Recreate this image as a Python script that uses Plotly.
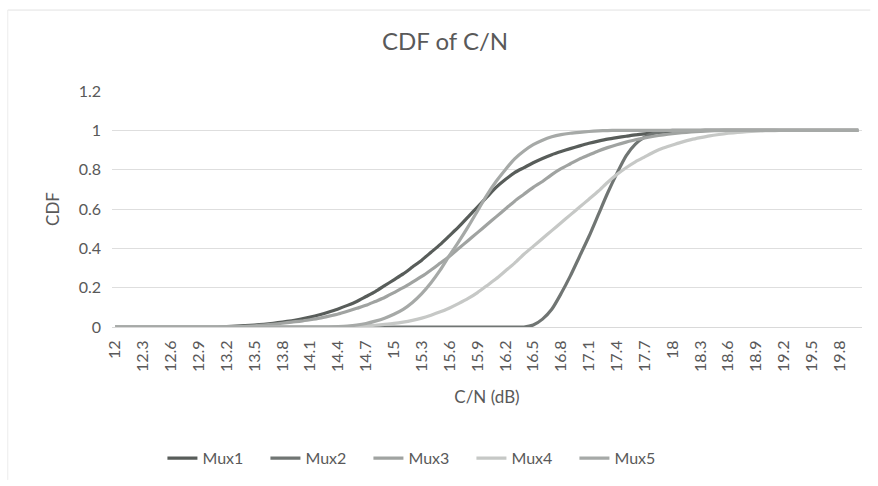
import plotly.graph_objects as go

# C/N categories in dB, 12.0 to 20.0 in 0.1 dB bins
cn_db = [round(12 + 0.1 * i, 1) for i in range(81)]

# CDF values per multiplex (index aligned with cn_db)
mux1 = ([0] * 12 +
        [0.002, 0.004, 0.007, 0.01, 0.014, 0.019, 0.025, 0.032, 0.04, 0.05,
         0.062, 0.076, 0.092, 0.11, 0.13, 0.155, 0.18, 0.21, 0.24, 0.27,
         0.305, 0.34, 0.38, 0.42, 0.465, 0.51, 0.56, 0.61, 0.66, 0.71,
         0.75, 0.785, 0.81, 0.835, 0.857, 0.876, 0.892, 0.907, 0.921, 0.934,
         0.945, 0.955, 0.963, 0.97, 0.977, 0.982, 0.987, 0.991, 0.994, 0.996,
         0.998, 0.999] +
        [1] * 17)

mux2 = ([0] * 45 +
        [0.01, 0.04, 0.09, 0.17, 0.26, 0.36, 0.46, 0.57, 0.68, 0.78,
         0.87, 0.93, 0.965, 0.985, 0.995] +
        [1] * 21)

mux3 = ([0] * 14 +
        [0.003, 0.006, 0.01, 0.014, 0.019, 0.025, 0.03, 0.037, 0.045, 0.055,
         0.066, 0.08, 0.095, 0.11, 0.13, 0.15, 0.175, 0.2, 0.228, 0.257,
         0.29, 0.325, 0.36, 0.4, 0.44, 0.48, 0.52, 0.56, 0.6, 0.64,
         0.675, 0.71, 0.74, 0.775, 0.805, 0.83, 0.855, 0.875, 0.895, 0.912,
         0.927, 0.94, 0.952, 0.962, 0.97, 0.977, 0.983, 0.988, 0.992, 0.995,
         0.997, 0.999] +
        [1] * 15)

mux4 = ([0] * 25 +
        [0.002, 0.004, 0.006, 0.009, 0.013, 0.018, 0.025, 0.034, 0.045, 0.06,
         0.077, 0.097, 0.12, 0.145, 0.175, 0.21, 0.245, 0.285, 0.325, 0.37,
         0.41, 0.45, 0.49, 0.53, 0.57, 0.61, 0.65, 0.69, 0.735, 0.775,
         0.81, 0.84, 0.865, 0.89, 0.91, 0.925, 0.94, 0.953, 0.963, 0.972,
         0.979, 0.985, 0.99, 0.993, 0.996, 0.998, 0.999] +
        [1] * 9)

mux5 = ([0] * 24 +
        [0.002, 0.005, 0.01, 0.018, 0.03, 0.045, 0.065, 0.09, 0.125, 0.17,
         0.225, 0.29, 0.365, 0.435, 0.51, 0.59, 0.67, 0.74, 0.80, 0.855,
         0.895, 0.927, 0.95, 0.967, 0.978, 0.985, 0.99, 0.994, 0.997, 0.999] +
        [1] * 27)

series_names = ["Mux1", "Mux2", "Mux3", "Mux4", "Mux5"]
series_values = [mux1, mux2, mux3, mux4, mux5]
series_colors = ["#585d5a", "#707573", "#a0a3a1", "#c6c8c6", "#a6a9a7"]

# Every third category gets a label
tick_vals = cn_db[::3]
tick_text = [f"{v:g}" for v in tick_vals]

text_color = "#595959"
font_family = "Lato, 'Open Sans', sans-serif"

fig = go.Figure()
for name, vals, color in zip(series_names, series_values, series_colors):
    fig.add_trace(go.Scatter(
        x=cn_db, y=vals, name=name, mode="lines",
        line=dict(color=color, width=3.2, shape="spline", smoothing=0.6),
    ))

fig.update_layout(
    width=878, height=486,
    margin=dict(l=112, r=16, t=91, b=159, autoexpand=False),
    paper_bgcolor="white", plot_bgcolor="white",
    font=dict(family=font_family, color=text_color, size=16),
    title=dict(text="CDF of C/N", x=0.507, xref="container", xanchor="center",
               y=0.915, yref="container", yanchor="middle",
               font=dict(size=24, color=text_color)),
    showlegend=True,
    legend=dict(orientation="h", x=0.185, xanchor="left", xref="container",
                y=0.057, yanchor="middle", yref="container",
                entrywidth=58, entrywidthmode="pixels",
                itemwidth=30, tracegroupgap=0,
                font=dict(size=16, color=text_color)),
    xaxis=dict(
        range=[11.965, 20.04], automargin=False,
        tickmode="array", tickvals=tick_vals, ticktext=tick_text,
        tickangle=-90, tickfont=dict(size=16, color=text_color),
        showgrid=False, zeroline=False,
        showline=True, linecolor="#d9d9d9", linewidth=1,
        ticks="", ticklen=0, ticklabelstandoff=6,
        title=dict(text="C/N (dB)", font=dict(size=17, color=text_color),
                   standoff=20),
    ),
    yaxis=dict(
        range=[0, 1.2], dtick=0.2, tick0=0, automargin=False,
        tickfont=dict(size=16, color=text_color),
        showgrid=True, gridcolor="#dedede", gridwidth=1,
        zeroline=False, ticks="", ticklabelstandoff=10,
        title=dict(text="CDF", font=dict(size=17, color=text_color),
                   standoff=14),
    ),
)

# Faint chart-area edges along the top and left
fig.add_shape(type="line", xref="paper", yref="paper",
              x0=-0.139, x1=1.011, y0=1.343, y1=1.343,
              line=dict(color="#e2e2e2", width=1), layer="below")
fig.add_shape(type="line", xref="paper", yref="paper",
              x0=-0.139, x1=-0.139, y0=-0.648, y1=1.343,
              line=dict(color="#ececec", width=1), layer="below")

fig.write_html("out.html")
